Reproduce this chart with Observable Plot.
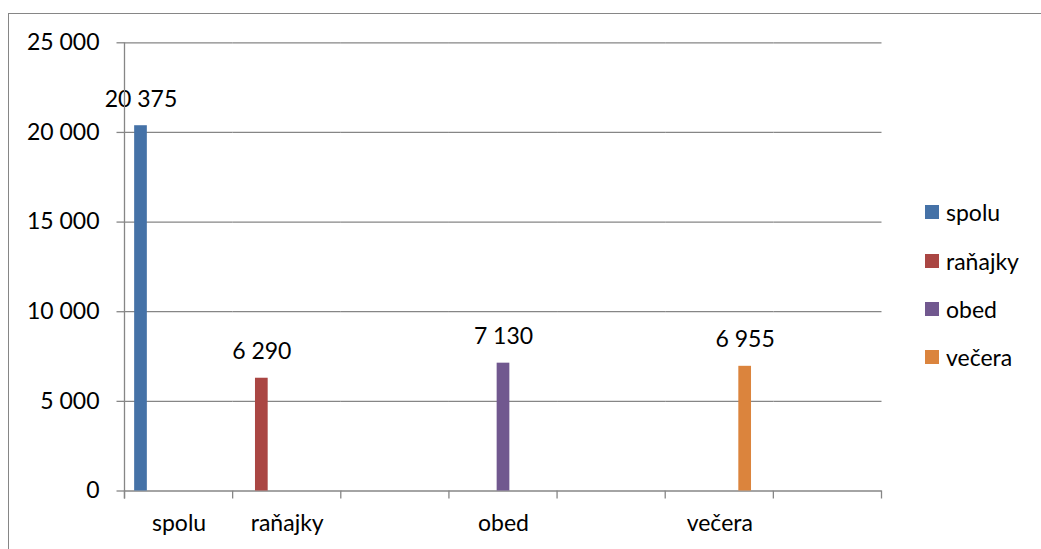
<!DOCTYPE html>
<html><head><meta charset="utf-8">
<script src="https://cdn.jsdelivr.net/npm/d3@7"></script>
<script src="https://cdn.jsdelivr.net/npm/@observablehq/plot@0.6"></script>
<style>
body{margin:0;background:#fff;}
#wrap{position:relative;width:1041px;height:549px;overflow:hidden;font-family:Lato,"Liberation Sans",sans-serif;color:#000;}
#frame{position:absolute;left:8px;top:13px;width:1100px;height:600px;border:1.3px solid #868686;box-sizing:border-box;}
#chart{position:absolute;left:0;top:0;}
#legend{position:absolute;left:925px;top:188px;}
.row{height:48.4px;display:flex;align-items:center;font-size:23px;}
.sw{width:14px;height:14px;margin-right:7px;flex:none;}
</style></head>
<body><div id="wrap"><div id="frame"></div><div id="chart"></div><div id="legend"></div></div>
<script>
// category slots along the axis (blank slots are empty categories)
const categories = ["spolu", "raňajky", "", "obed", "", "večera", ""];
// one series per slot; value for its own category (null = no bar)
const values = [20375, 6290, null, 7130, null, 6955, null];
const seriesNames = ["spolu", "raňajky", "obed", "večera"];
const seriesColors = ["#4572A7", "#AA4643", "#71588F", "#DB843D"];
const yTicks = [0, 5000, 10000, 15000, 20000, 25000];

const fmt = d3.formatLocale({decimal: ",", thousands: " ", grouping: [3], currency: ["", ""]}).format(",d");
const slots = categories.map((_, i) => i);
const data = values.map((v, i) => ({cat: i, ser: i, name: categories[i], value: v}));
const withValue = data.filter(d => d.value != null);

const gray = "#868686";
const FS = 23;

const chart = Plot.plot({
  width: 1041, height: 549,
  marginLeft: 124.5, marginRight: 159.5, marginTop: 42.3, marginBottom: 58.5,
  style: {fontSize: FS + "px", fontFamily: 'Lato,"Liberation Sans",sans-serif', background: "transparent", color: "#000"},
  fx: {domain: slots, padding: 0, round: false, label: null},
  x: {domain: slots, paddingInner: 0, paddingOuter: 0.76, round: false, axis: null},
  y: {domain: [0, 25000], label: null},
  color: {domain: seriesNames, range: seriesColors},
  marks: [
    Plot.ruleY(yTicks, {stroke: gray, strokeWidth: 1.3}),
    Plot.barY(data, {fx: "cat", x: "ser", y: "value", fill: "name", inset: 0}),
    Plot.text(withValue, {fx: "cat", x: "ser", y: "value", text: d => fmt(d.value), lineAnchor: "bottom", dy: -19, fill: "#000", fontSize: FS}),
    Plot.axisY({ticks: yTicks, tickFormat: fmt, tickSize: 8, tickPadding: 17.5, stroke: gray, strokeWidth: 1.3, fill: "#000", fontSize: FS, label: null}),
    Plot.axisFx({anchor: "bottom", tickSize: 0, tickPadding: 24, tickFormat: i => categories[i], fill: "#000", fontSize: FS, label: null})
  ]
});
document.getElementById("chart").appendChild(chart);

// axis line and category boundary ticks from the library's scales
const fxs = chart.scale("fx"), ys = chart.scale("y");
const svg = d3.select(chart);
const y0 = ys.range[0], yTop = ys.range[1];
const left = fxs.range[0];
const g = svg.append("g").attr("stroke", gray).attr("stroke-width", 1.3);
g.append("line").attr("x1", left).attr("x2", left).attr("y1", yTop).attr("y2", y0 + 8);
for (let i = 0; i <= slots.length; i++) {
  const x = left + i * fxs.step;
  g.append("line").attr("x1", x).attr("x2", x).attr("y1", y0).attr("y2", y0 + 8);
}

// legend
const legend = document.getElementById("legend");
seriesNames.forEach((n, i) => {
  const r = document.createElement("div"); r.className = "row";
  const s = document.createElement("div"); s.className = "sw"; s.style.background = seriesColors[i];
  const t = document.createElement("span"); t.textContent = n;
  r.appendChild(s); r.appendChild(t); legend.appendChild(r);
});
</script>
</body></html>
